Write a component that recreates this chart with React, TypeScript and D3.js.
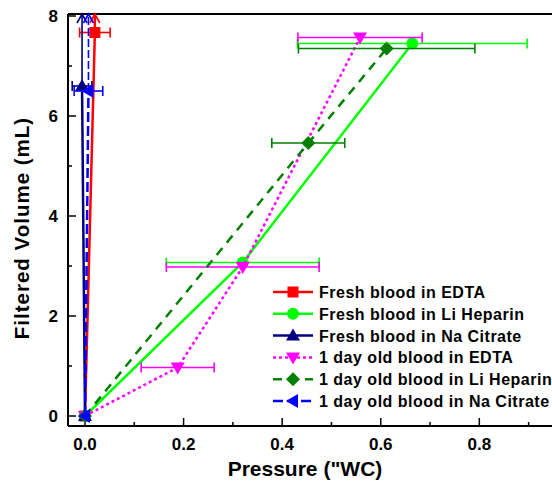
import React from 'react';
import * as d3 from 'd3';

// Pressure ("WC) and filtered volume (mL)
const seriesNames = [
  'Fresh blood in EDTA',
  'Fresh blood in Li Heparin',
  'Fresh blood in Na Citrate',
  '1 day old blood in EDTA',
  '1 day old blood in Li Heparin',
  '1 day old blood in Na Citrate',
];

const freshEdtaX = [0, 0.02];
const freshEdtaY = [0, 7.67];
const freshEdtaXErr = [0, 0.031];
const freshEdtaYErrUp = [0, 1];

const freshHeparinX = [0, 0.32, 0.664];
const freshHeparinY = [0, 3.07, 7.45];
const freshHeparinXErr = [0, 0.155, 0.233];
const freshHeparinYErrUp = [0, 0, 0];

const freshCitrateX = [0, -0.006];
const freshCitrateY = [0, 6.6];
const freshCitrateXErr = [0, 0.02];
const freshCitrateYErrUp = [0, 2];

const oldEdtaX = [0, 0.188, 0.32, 0.558];
const oldEdtaY = [0, 0.97, 2.98, 7.57];
const oldEdtaXErr = [0, 0.074, 0.155, 0.126];
const oldEdtaYErrUp = [0, 0, 0, 0];

const oldHeparinX = [0, 0.453, 0.612];
const oldHeparinY = [0, 5.46, 7.35];
const oldHeparinXErr = [0, 0.074, 0.179];
const oldHeparinYErrUp = [0, 0, 0];

const oldCitrateX = [0, 0.007];
const oldCitrateY = [0, 6.5];
const oldCitrateXErr = [0, 0.029];
const oldCitrateYErrUp = [0, 2];

const xTicks = [0, 0.1, 0.2, 0.3, 0.4, 0.5, 0.6, 0.7, 0.8, 0.9];
const yTicks = [0, 1, 2, 3, 4, 5, 6, 7, 8];

const colors = ['#ff0000', '#00ff00', '#000080', '#ff00ff', '#008000', '#0000ff'];
const dashes = [null, null, null, '3,3', '9,7', '10,4'];
const symbols = ['square', 'circle', 'triangleUp', 'triangleDown', 'diamond', 'triangleLeft'];

const seriesX = [freshEdtaX, freshHeparinX, freshCitrateX, oldEdtaX, oldHeparinX, oldCitrateX];
const seriesY = [freshEdtaY, freshHeparinY, freshCitrateY, oldEdtaY, oldHeparinY, oldCitrateY];
const seriesXErr = [freshEdtaXErr, freshHeparinXErr, freshCitrateXErr, oldEdtaXErr, oldHeparinXErr, oldCitrateXErr];
const seriesYErrUp = [freshEdtaYErrUp, freshHeparinYErrUp, freshCitrateYErrUp, oldEdtaYErrUp, oldHeparinYErrUp, oldCitrateYErrUp];

const W = 552;
const H = 483;
const font = '"Liberation Sans", Arial, sans-serif';

const x = d3.scaleLinear().domain([-0.0345, 0.97]).range([68, 68 + 1.0045 * 492.9]);
const y = d3.scaleLinear().domain([-0.2, 8.04]).range([426, 14]);

const Marker = ({ type, cx, cy, color }) => {
  const s = 6;
  if (type === 'square') return <rect x={cx - 5.5} y={cy - 5.5} width={11} height={11} fill={color} />;
  if (type === 'circle') return <circle cx={cx} cy={cy} r={6} fill={color} />;
  let pts = [];
  if (type === 'triangleUp') pts = [[cx, cy - s - 1], [cx + s + 1, cy + s - 1], [cx - s - 1, cy + s - 1]];
  if (type === 'triangleDown') pts = [[cx, cy + s + 1], [cx + s + 1, cy - s + 1], [cx - s - 1, cy - s + 1]];
  if (type === 'triangleLeft') pts = [[cx - s - 1, cy], [cx + s - 1, cy - s - 1], [cx + s - 1, cy + s + 1]];
  if (type === 'diamond') pts = [[cx, cy - s - 1], [cx + s + 1, cy], [cx, cy + s + 1], [cx - s - 1, cy]];
  return <polygon points={pts.map(p => p.join(',')).join(' ')} fill={color} />;
};

const App = () => {
  const line = d3.line<number>()
    .x(d => d[0])
    .y(d => d[1]);

  const top = y.range()[1];
  const plotLeft = x.range()[0];
  const plotBottom = y.range()[0];

  const series = seriesNames.map((name, i) => {
    const pts = seriesX[i].map((v, j) => [x(v), y(seriesY[i][j])]);
    const color = colors[i];
    return (
      <g key={name}>
        <path d={line(pts as any) || ''} fill="none" stroke={color} strokeWidth={2.5}
          strokeDasharray={dashes[i] || undefined} />
        {seriesX[i].map((v, j) => {
          const e = seriesXErr[i][j];
          const cy = y(seriesY[i][j]);
          if (!e) return null;
          const x0 = x(v - e), x1 = x(v + e);
          return (
            <g key={'xe' + j} stroke={color} strokeWidth={1.6}>
              <line x1={x0} x2={x1} y1={cy} y2={cy} />
              <line x1={x0} x2={x0} y1={cy - 5} y2={cy + 5} />
              <line x1={x1} x2={x1} y1={cy - 5} y2={cy + 5} />
            </g>
          );
        })}
        {seriesX[i].map((v, j) => {
          const e = seriesYErrUp[i][j];
          if (!e) return null;
          const cx = x(v);
          const y0 = y(seriesY[i][j]);
          const y1 = Math.max(y(seriesY[i][j] + e), top);
          return (
            <g key={'ye' + j} stroke={color} fill="none">
              <line x1={cx} x2={cx} y1={y0} y2={y1} strokeWidth={i === 0 ? 2.5 : 1.6}
                strokeDasharray={i === 5 ? '8,3' : undefined} />
              <polyline points={`${cx - 5},${y1 + 9} ${cx},${y1} ${cx + 5},${y1 + 9}`} strokeWidth={1.6} />
            </g>
          );
        })}
        {seriesX[i].map((v, j) => (
          <Marker key={'m' + j} type={symbols[i]} cx={x(v)} cy={y(seriesY[i][j])} color={color} />
        ))}
      </g>
    );
  });

  const legendX = 273;
  const legendY0 = 292;
  const legendStep = 21.8;

  return (
    <svg width={W} height={H} style={{ position: 'absolute', left: 0, top: 0, background: '#fff' }}
      fontFamily={font} fontWeight="bold">
      <defs>
        <clipPath id="plotClip">
          <rect x={plotLeft} y={top - 2} width={W - plotLeft} height={plotBottom - top + 2} />
        </clipPath>
      </defs>

      {/* axes frame */}
      <line x1={plotLeft} x2={W} y1={plotBottom} y2={plotBottom} stroke="#000" strokeWidth={2} />
      <line x1={plotLeft} x2={W} y1={top} y2={top} stroke="#000" strokeWidth={2} />
      <line x1={plotLeft} x2={plotLeft} y1={top} y2={plotBottom} stroke="#000" strokeWidth={2} />

      {xTicks.map((t, i) => (
        <g key={'xt' + t}>
          <line x1={x(t)} x2={x(t)} y1={plotBottom} y2={plotBottom - (i % 2 === 0 ? 8 : 4)} stroke="#000" strokeWidth={1.5} />
          {i % 2 === 0 && (
            <text x={x(t)} y={450} textAnchor="middle" fontSize={17}>{d3.format('.1f')(t)}</text>
          )}
        </g>
      ))}
      {yTicks.map((t, i) => (
        <g key={'yt' + t}>
          <line x1={plotLeft} x2={plotLeft + (i % 2 === 0 ? 8 : 4)} y1={y(t)} y2={y(t)} stroke="#000" strokeWidth={1.5} />
          {i % 2 === 0 && (
            <text x={58} y={y(t) + 6} textAnchor="end" fontSize={17}>{t}</text>
          )}
        </g>
      ))}

      <text x={305} y={476} textAnchor="middle" fontSize={21}>Pressure ("WC)</text>
      <text transform={`translate(29,228) rotate(-90)`} textAnchor="middle" fontSize={20.5}
        letterSpacing={1}>Filtered Volume (mL)</text>

      <g clipPath="url(#plotClip)">{series}</g>

      {seriesNames.map((name, i) => {
        const ly = legendY0 + i * legendStep;
        return (
          <g key={'lg' + i}>
            <line x1={legendX} x2={legendX + 40} y1={ly} y2={ly} stroke={colors[i]} strokeWidth={2.5}
              strokeDasharray={dashes[i] || undefined} />
            <Marker type={symbols[i]} cx={legendX + 20} cy={ly} color={colors[i]} />
            <text x={319} y={ly + 6} fontSize={16} letterSpacing={0.5}>{name}</text>
          </g>
        );
      })}
    </svg>
  );
};

export default App;
